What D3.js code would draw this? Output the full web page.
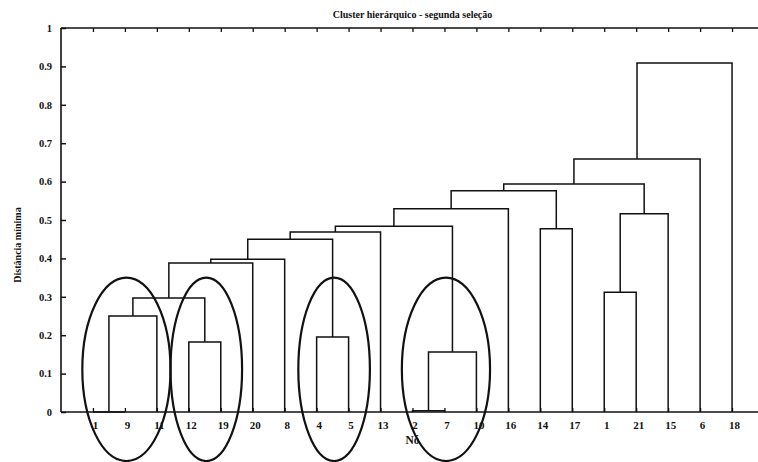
<!DOCTYPE html>
<html>
<head>
<meta charset="utf-8">
<script src="https://cdn.jsdelivr.net/npm/d3@7"></script>
<style>
  html, body { margin: 0; padding: 0; background: #fff; }
  svg { display: block; }
  text { font-family: "Liberation Serif", "Times New Roman", serif; font-weight: bold; fill: #111; }
</style>
</head>
<body>
<svg id="chart" width="758" height="462"></svg>
<script>
// Leaf labels in dendrogram order (positions 1..21)
const leafLabels = ["1","9","11","12","19","20","8","4","5","13","2","7","10","16","14","17","1","21","15","6","18"];

// Linkage rows: node ids 1..21 are leaves (by position), 22.. are merged clusters in row order
const linkLeft   = [1, 11, 23, 4, 8, 22, 27, 17, 28, 30, 31, 32, 15, 33, 29, 35, 37, 38, 39, 40];
const linkRight  = [2, 12, 13, 5, 9, 3, 25, 18, 6, 7, 26, 10, 16, 24, 19, 14, 34, 36, 20, 21];
const linkHeight = [0.0, 0.003, 0.156, 0.182, 0.195, 0.25, 0.297, 0.312, 0.388, 0.398, 0.45, 0.469, 0.477, 0.484, 0.516, 0.529, 0.576, 0.594, 0.659, 0.909];

// Y-axis ticks
const yTicks = [0, 0.1, 0.2, 0.3, 0.4, 0.5, 0.6, 0.7, 0.8, 0.9, 1];
const yTickLabels = ["0", "0.1", "0.2", "0.3", "0.4", "0.5", "0.6", "0.7", "0.8", "0.9", "1"];

// Highlighted groups of leaves (first and last leaf position)
const groupFirst = [1, 4, 8, 11];
const groupLast  = [3, 5, 9, 13];

const titleText = "Cluster hierárquico - segunda seleção";
const xTitle = "Nó";
const yTitle = "Distância mínima";

const svg = d3.select("#chart");
const W = 758, H = 462;
const nLeaves = leafLabels.length;

const x = d3.scaleLinear().domain([0, nLeaves + 1]).range([61, 764]);
const y = d3.scaleLinear().domain([0, 1]).range([412, 28]);

svg.append("rect").attr("width", W).attr("height", H).attr("fill", "#fff");

// Node positions and heights
const nodeX = {}, nodeH = {};
for (let i = 1; i <= nLeaves; i++) { nodeX[i] = i; nodeH[i] = 0; }
linkLeft.forEach((a, k) => {
  const id = nLeaves + 1 + k, b = linkRight[k];
  nodeX[id] = (nodeX[a] + nodeX[b]) / 2;
  nodeH[id] = linkHeight[k];
});

// Frame: left axis, top border, bottom axis
const g = svg.append("g");
g.append("line").attr("x1", x(0)).attr("x2", x(0)).attr("y1", y(1)).attr("y2", y(0))
  .attr("stroke", "#111").attr("stroke-width", 1.6);
g.append("line").attr("x1", x(0)).attr("x2", W).attr("y1", y(1)).attr("y2", y(1))
  .attr("stroke", "#111").attr("stroke-width", 1.6);
g.append("line").attr("x1", x(0)).attr("x2", W).attr("y1", y(0)).attr("y2", y(0))
  .attr("stroke", "#111").attr("stroke-width", 1.6);

// Left axis ticks and labels
const leftAxis = d3.axisLeft(y).tickValues(yTicks).tickSize(-5).tickPadding(9)
  .tickFormat((d, i) => yTickLabels[i]);
const la = svg.append("g").attr("transform", `translate(${x(0)},0)`).call(leftAxis);
la.select(".domain").remove();
la.selectAll(".tick line").attr("stroke", "#111").attr("stroke-width", 1.5);
la.selectAll(".tick text").attr("font-size", 10.5).attr("font-family", "Liberation Serif").attr("font-weight", "bold").attr("fill", "#111");

// Bottom axis with leaf labels
const leafPos = d3.range(1, nLeaves + 1);
const bottomAxis = d3.axisBottom(x).tickValues(leafPos).tickSize(-4).tickPadding(9)
  .tickFormat((d) => leafLabels[d - 1]);
const ba = svg.append("g").attr("transform", `translate(0,${y(0)})`).call(bottomAxis);
ba.select(".domain").remove();
ba.selectAll(".tick line").attr("stroke", "#111").attr("stroke-width", 1.3);
ba.selectAll(".tick text").attr("font-size", 11).attr("font-family", "Liberation Serif").attr("font-weight", "bold").attr("fill", "#111").attr("dx", 2);

// Top border ticks
const topAxis = d3.axisTop(x).tickValues(leafPos).tickSize(-4).tickFormat("");
const ta = svg.append("g").attr("transform", `translate(0,${y(1)})`).call(topAxis);
ta.select(".domain").remove();
ta.selectAll(".tick line").attr("stroke", "#111").attr("stroke-width", 1.3);

// Dendrogram links
const links = linkLeft.map((a, k) => ({ a, b: linkRight[k], h: linkHeight[k] }));
svg.append("g").selectAll("path").data(links).join("path")
  .attr("d", d => `M${x(nodeX[d.a])},${y(nodeH[d.a])}V${y(d.h)}H${x(nodeX[d.b])}V${y(nodeH[d.b])}`)
  .attr("fill", "none").attr("stroke", "#111").attr("stroke-width", 1.5);

// Titles
svg.append("text").attr("x", x((nLeaves + 1) / 2)).attr("y", 18).attr("text-anchor", "middle")
  .attr("font-size", 10).text(titleText);
svg.append("text").attr("x", x((nLeaves + 1) / 2)).attr("y", 444).attr("text-anchor", "middle")
  .attr("font-size", 11.5).text(xTitle);
svg.append("text").attr("transform", "translate(21,245) rotate(-90)").attr("text-anchor", "middle")
  .attr("font-size", 10).text(yTitle);

// Rings around the highlighted groups
const spacing = x(1) - x(0);
const ringTop = y(0.35), ringBottom = 461;
const rings = groupFirst.map((f, i) => {
  const n = groupLast[i] - f + 1;
  return { cx: x((f + groupLast[i]) / 2) + 1.5, rx: spacing * (0.6 + 0.26 * n) };
});
svg.append("g").selectAll("ellipse").data(rings).join("ellipse")
  .attr("cx", d => d.cx).attr("cy", (ringTop + ringBottom) / 2)
  .attr("rx", d => d.rx).attr("ry", (ringBottom - ringTop) / 2)
  .attr("fill", "none").attr("stroke", "#111").attr("stroke-width", 2.2);
</script>
</body>
</html>
